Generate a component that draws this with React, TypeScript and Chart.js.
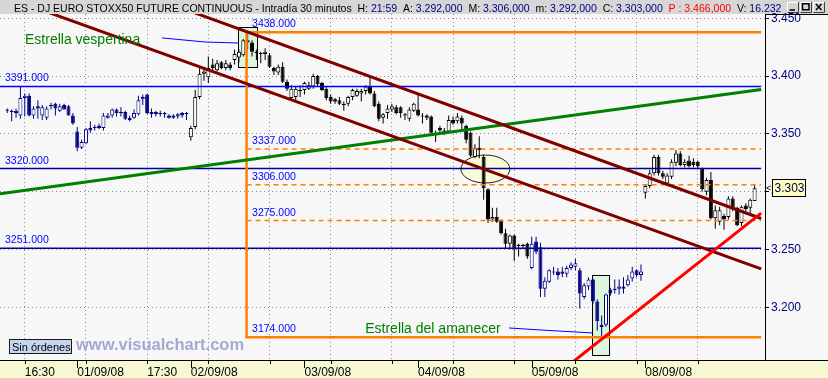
import React, { useEffect, useRef } from 'react';
import { Chart, registerables } from 'chart.js';

Chart.register(...registerables);

const FONT = "'Liberation Sans', Arial, Helvetica, sans-serif";
const NAVY = '#000080';
const BLACK = '#000000';

// ---- OHLC (30 minute bars, 29/08/08 .. 08/09/08) ----
const OPEN = [
  3370,3369,3370,3366,3381,3383,3366,3374,3366,3364,
  3374,3376,3370,3375,3374,3366,3352,3338,3342,3355,
  3355,3357,3355,3364,3366,3371,3369,3369,3364,3364,
  3367,3380,3384,3369,3369,3368,3367,3366,3366,3365,
  3368,3367,3347,3356,3382,3402,3399,3410,3405,3412,
  3407,3410,3414,3416,3418,3431,3429,3421,3420,3419,
  3418,3407,3403,3408,3395,3381,3382,3388,3388,3389,
  3391,3400,3394,3389,3382,3380,3379,3376,3376,3382,
  3383,3385,3387,3391,3385,3376,3364,3368,3371,3373,
  3373,3367,3363,3370,3371,3366,3366,3365,3351,3355,
  3353,3352,3362,3361,3364,3357,3351,3330,3338,3330,
  3302,3276,3278,3275,3264,3255,3262,3253,3253,3255,
  3234,3257,3252,3216,3222,3231,3231,3231,3229,3234,
  3235,3232,3209,3218,3224,3205,3185,3185,3215,3216,
  3216,3218,3219,3225,3232,3228,3299,3305,3316,3330,
  3316,3307,3313,3325,3333,3323,3327,3326,3326,3320,
  3300,3310,3277,3274,3279,3278,3294,3286,3273,3288,
  3286,3292,
];
const HIGH = [
  3372,3371,3372,3391,3385,3385,3374,3379,3375,3374,
  3377,3377,3376,3376,3375,3368,3356,3345,3355,3361,
  3358,3359,3368,3368,3372,3372,3373,3370,3366,3371,
  3383,3384,3385,3372,3370,3370,3369,3367,3367,3368,
  3369,3369,3357,3388,3407,3407,3417,3415,3414,3413,
  3414,3412,3423,3423,3432,3438,3431,3423,3421,3424,
  3420,3408,3410,3412,3397,3392,3391,3392,3395,3395,
  3402,3401,3395,3391,3384,3381,3382,3378,3383,3389,
  3389,3389,3392,3400,3387,3378,3368,3375,3376,3375,
  3374,3368,3373,3377,3385,3368,3367,3366,3353,3357,
  3355,3366,3365,3368,3366,3358,3352,3341,3348,3332,
  3303,3286,3286,3276,3268,3263,3263,3255,3255,3256,
  3261,3261,3256,3226,3233,3235,3234,3235,3236,3239,
  3242,3234,3221,3226,3225,3207,3193,3212,3217,3224,
  3224,3226,3228,3235,3233,3237,3306,3319,3332,3332,
  3318,3316,3328,3336,3335,3328,3331,3329,3327,3321,
  3312,3317,3288,3287,3281,3296,3296,3287,3288,3290,
  3294,3306,
];
const LOW = [
  3368,3361,3364,3363,3365,3365,3363,3363,3362,3362,
  3371,3366,3369,3371,3366,3358,3335,3337,3341,3351,
  3353,3354,3353,3363,3364,3365,3365,3362,3361,3363,
  3366,3375,3367,3364,3365,3365,3364,3363,3363,3363,
  3364,3362,3344,3354,3380,3396,3394,3404,3404,3406,
  3405,3405,3410,3412,3417,3423,3417,3414,3411,3414,
  3407,3401,3401,3394,3387,3379,3378,3382,3384,3388,
  3389,3391,3387,3379,3376,3376,3375,3370,3374,3379,
  3382,3378,3384,3384,3373,3361,3359,3363,3369,3367,
  3364,3362,3361,3369,3365,3359,3362,3349,3343,3351,
  3349,3351,3358,3359,3353,3342,3330,3329,3329,3293,
  3273,3274,3273,3263,3251,3250,3240,3244,3251,3242,
  3233,3246,3209,3209,3221,3228,3224,3226,3226,3232,
  3232,3199,3207,3215,3203,3180,3175,3183,3210,3212,
  3211,3212,3218,3222,3226,3223,3294,3303,3314,3314,
  3311,3305,3311,3322,3322,3321,3321,3321,3320,3300,
  3297,3276,3268,3271,3267,3276,3283,3270,3270,3283,
  3281,3292,
];
const CLOSE = [
  3371,3370,3368,3381,3383,3366,3372,3372,3373,3372,
  3375,3372,3374,3371,3366,3359,3338,3343,3354,3353,
  3356,3355,3366,3366,3371,3368,3368,3363,3362,3368,
  3379,3382,3368,3367,3367,3367,3368,3364,3364,3367,
  3366,3368,3355,3382,3402,3404,3407,3407,3411,3407,
  3411,3407,3419,3421,3431,3429,3421,3420,3419,3421,
  3408,3404,3408,3395,3389,3389,3389,3387,3394,3392,
  3400,3393,3388,3381,3378,3378,3376,3375,3382,3388,
  3387,3387,3391,3385,3374,3363,3367,3372,3374,3368,
  3368,3366,3371,3376,3366,3365,3364,3351,3349,3353,
  3351,3362,3359,3365,3359,3345,3331,3338,3336,3303,
  3276,3278,3274,3264,3255,3262,3250,3254,3254,3244,
  3255,3248,3216,3223,3232,3230,3228,3229,3234,3237,
  3238,3212,3219,3224,3205,3188,3183,3211,3212,3215,
  3218,3216,3224,3231,3228,3231,3305,3316,3330,3316,
  3313,3314,3326,3333,3323,3326,3322,3323,3322,3302,
  3310,3277,3284,3284,3276,3294,3286,3271,3287,3285,
  3293,3303,
];

// ---- axes ----
const DAY_STARTS = [16, 42, 68, 94, 120, 146];
const DAY_LABELS = ['01/09/08', '02/09/08', '03/09/08', '04/09/08', '05/09/08', '08/09/08'];
const SESSION_INK = [NAVY, NAVY, BLACK, BLACK, BLACK, NAVY, BLACK];
const TIME_TICKS = [4, 18, 32, 46, 60, 74, 88, 102, 116, 130, 144, 158];
const TIME_LABELS = ['16:30', '', '17:30', '', '', '', '', '', '', '', '', ''];
const PRICE_TICKS = [3200, 3250, 3300, 3350, 3400, 3450];
const X_MIN = -1.67;
const X_MAX = 173.38;
const Y_MIN = 3154.4;
const Y_MAX = 3453.7;

// ---- header values ----
const HEADER_TITLE = 'ES - DJ EURO STOXX50 FUTURE CONTINUOUS - Intradía 30 minutos';
const HEADER_TIME = '21:59';
const HEADER_OPEN = '3.292,000';
const HEADER_HIGH = '3.306,000';
const HEADER_LOW = '3.292,000';
const HEADER_CLOSE = '3.303,000';
const HEADER_PREV = '3.466,000';
const HEADER_VOL = '16.232';
const LAST_PRICE = 3303;

// ---- drawings (data units: bar index, price) ----
const SUPPORT_LEVELS = [3391, 3320, 3251];
const SUPPORT_COLORS = ['#0000ff', '#000099', '#000099'];
const FIB_LEVELS = [3438, 3337, 3306, 3275, 3174];
const FIB_DASHED = [3337, 3306, 3275];
const FIB_START = 54.75;
const DRAW_END = 172.5;
const CHANNEL_UPPER = [[41.8, 3456.2], [172.5, 3276.8]];
const CHANNEL_LOWER = [[8.6, 3456.2], [172.5, 3233.2]];
const GREEN_TREND = [[-1.67, 3298.1], [172.5, 3388.4]];
const RED_TREND = [[128.8, 3150.9], [172.5, 3281.5]];
const EVENING_BOX = [52.8, 57.1, 3442.5, 3407.9];
const MORNING_BOX = [133.8, 137.7, 3228.1, 3158.9];
const ELLIPSE = [109.4, 3319.6, 5.6, 12.1];
const EVENING_POINTER = [[35.4, 3433.0], [45.2, 3429.5], [52.8, 3428.6]];
const MORNING_POINTER = [[114.8, 3182.1], [121.9, 3180.4], [133.8, 3177.8]];
const EVENING_TEXT = { x: 4.05, y: 3427.6, text: 'Estrella vespertina' };
const MORNING_TEXT = { x: 81.9, y: 3177.9, text: 'Estrella del amanecer' };

const X_TICKS = [
  ...TIME_TICKS.map((v, i) => ({ value: v, label: TIME_LABELS[i], major: false })),
  ...DAY_STARTS.map((v, i) => ({ value: v, label: DAY_LABELS[i], major: true })),
].sort((a, b) => a.value - b.value);

function sessionOf(i: number) {
  let s = 0;
  for (const d of DAY_STARTS) if (i >= d) s++;
  return s;
}
const INK = OPEN.map((_, i) => SESSION_INK[sessionOf(i)]);
const BODY_FILL = OPEN.map((o, i) => (CLOSE[i] >= o ? '#ffffff' : INK[i]));

const fmtPrice = (v: number) => (v / 1000).toFixed(3);

function lineDs(pts: number[][], color: string, width: number, order: number, dash: number[] = []) {
  return {
    type: 'line' as const,
    data: pts.map(([x, y]) => ({ x, y })),
    borderColor: color,
    borderWidth: width,
    borderDash: dash,
    pointRadius: 0,
    fill: false,
    tension: 0,
    clip: 0,
    order,
  };
}

const overlay = {
  id: 'overlay',
  beforeDraw(chart: any) {
    const { ctx, chartArea: a, width, height } = chart;
    ctx.save();
    ctx.fillStyle = '#f7f7f7';
    ctx.fillRect(0, 0, width, height);
    ctx.fillStyle = '#f7f7d1';
    ctx.fillRect(0, a.bottom, width, height - a.bottom);
    ctx.fillStyle = '#d6d6d6';
    ctx.fillRect(0, 0, width, a.top);
    ctx.restore();
  },
  beforeDatasetsDraw(chart: any) {
    const { ctx, chartArea: a, scales } = chart;
    const xp = (v: number) => scales.x.getPixelForValue(v);
    const yp = (v: number) => scales.y.getPixelForValue(v);
    ctx.save();
    ctx.beginPath();
    ctx.rect(a.left, a.top, a.right - a.left, a.bottom - a.top);
    ctx.clip();
    for (const b of [EVENING_BOX, MORNING_BOX]) {
      const x1 = Math.round(xp(b[0])), x2 = Math.round(xp(b[1]));
      const y1 = Math.round(yp(b[2])), y2 = Math.round(yp(b[3]));
      ctx.fillStyle = '#ddf5dd';
      ctx.fillRect(x1, y1, x2 - x1, y2 - y1);
      ctx.strokeStyle = '#000';
      ctx.lineWidth = 1;
      ctx.strokeRect(x1 + 0.5, y1 + 0.5, x2 - x1, y2 - y1);
    }
    const [cx, cy, rx, ry] = ELLIPSE;
    const ex = xp(cx), ey = yp(cy);
    const erx = xp(cx + rx) - ex, ery = ey - yp(cy + ry);
    ctx.beginPath();
    ctx.ellipse(ex, ey, erx, ery, 0, 0, Math.PI * 2);
    ctx.fillStyle = '#fafad6';
    ctx.fill();
    ctx.strokeStyle = '#222';
    ctx.lineWidth = 1;
    ctx.stroke();
    ctx.restore();
  },
  afterDatasetsDraw(chart: any) {
    const { ctx, scales } = chart;
    const xp = (v: number) => scales.x.getPixelForValue(v);
    const yp = (v: number) => scales.y.getPixelForValue(v);
    ctx.save();
    ctx.textBaseline = 'alphabetic';
    ctx.textAlign = 'left';
    ctx.font = `10.5px ${FONT}`;
    ctx.fillStyle = '#0000ff';
    for (const lv of SUPPORT_LEVELS) ctx.fillText(lv.toFixed(3), 5, yp(lv) - 5);
    for (const lv of FIB_LEVELS) ctx.fillText(lv.toFixed(3), xp(FIB_START) + 5.5, yp(lv) - 5);
    ctx.font = `14px ${FONT}`;
    ctx.fillStyle = '#008000';
    for (const t of [EVENING_TEXT, MORNING_TEXT]) ctx.fillText(t.text, xp(t.x), yp(t.y));
    ctx.restore();
  },
  afterDraw(chart: any) {
    const { ctx, chartArea: a, scales, width, height } = chart;
    const xs = scales.x;
    const ys = scales.y;
    ctx.save();
    // borders
    ctx.strokeStyle = '#000';
    ctx.lineWidth = 1;
    ctx.beginPath();
    ctx.moveTo(0, a.bottom + 0.5);
    ctx.lineTo(width, a.bottom + 0.5);
    ctx.moveTo(a.right + 0.5, a.top);
    ctx.lineTo(a.right + 0.5, a.bottom);
    ctx.moveTo(a.right, a.top + 0.5);
    ctx.lineTo(width, a.top + 0.5);
    ctx.stroke();
    // x tick marks
    ctx.beginPath();
    for (const t of X_TICKS) {
      const x = Math.round(xs.getPixelForValue(t.value)) + 0.5;
      ctx.moveTo(x, a.bottom + 1);
      ctx.lineTo(x, a.bottom + (t.major ? 8 : 4));
    }
    ctx.stroke();

    // last price marker
    const yc = ys.getPixelForValue(LAST_PRICE);
    ctx.fillStyle = '#ffffc4';
    ctx.fillRect(772, Math.round(yc) - 9, 33, 17);
    ctx.strokeRect(772.5, Math.round(yc) - 8.5, 33, 17);
    ctx.fillStyle = '#000040';
    ctx.font = `12px ${FONT}`;
    ctx.textBaseline = 'middle';
    ctx.fillText(fmtPrice(LAST_PRICE), 774.5, yc + 0.5);
    ctx.font = `9px ${FONT}`;
    ctx.fillStyle = '#000';
    ctx.fillText('<', 766, yc);

    // Sin órdenes box
    ctx.fillStyle = '#c6d6ee';
    ctx.fillRect(9, 339, 63, 15);
    ctx.strokeStyle = '#1a1a1a';
    ctx.strokeRect(9.5, 339.5, 62, 14);
    ctx.fillStyle = '#000';
    ctx.textBaseline = 'alphabetic';
    ctx.font = `11px ${FONT}`;
    ctx.fillText('Sin órdenes', 12, 350.5);

    // watermark
    ctx.font = `bold 16.5px ${FONT}`;
    ctx.fillStyle = '#a2aad2';
    ctx.fillText('www.visualchart.com', 76, 350);

    // header text
    const parts: [string, string][] = [
      [HEADER_TITLE + '  H: ', '#000'], [HEADER_TIME, NAVY],
      ['  A: ', '#000'], [HEADER_OPEN, NAVY],
      ['  M: ', '#000'], [HEADER_HIGH, NAVY],
      ['  m: ', '#000'], [HEADER_LOW, NAVY],
      ['  C: ', '#000'], [HEADER_CLOSE, NAVY],
      ['  P : ' + HEADER_PREV, '#ff0000'],
      ['  V: ', '#000'], [HEADER_VOL, NAVY],
    ];
    ctx.font = `12px ${FONT}`;
    const total = parts.reduce((s, p) => s + ctx.measureText(p[0]).width, 0);
    const size = Math.max(10.5, Math.min(13, (12 * 764) / total));
    ctx.font = `${size}px ${FONT}`;
    let hx = 14;
    for (const [s, c] of parts) {
      ctx.fillStyle = c;
      ctx.fillText(s, hx, 11.5);
      hx += ctx.measureText(s).width;
    }
    // window buttons
    const btns = [787, 800, 813];
    btns.forEach((bx, i) => {
      ctx.fillStyle = '#d4d4d4';
      ctx.fillRect(bx, 2, 11, 10);
      ctx.strokeStyle = '#ffffff';
      ctx.beginPath();
      ctx.moveTo(bx + 0.5, 11.5); ctx.lineTo(bx + 0.5, 2.5); ctx.lineTo(bx + 11, 2.5);
      ctx.stroke();
      ctx.strokeStyle = '#404040';
      ctx.beginPath();
      ctx.moveTo(bx + 0.5, 12.5); ctx.lineTo(bx + 11.5, 12.5); ctx.lineTo(bx + 11.5, 2);
      ctx.stroke();
      ctx.strokeStyle = '#000';
      ctx.lineWidth = 1.5;
      ctx.beginPath();
      if (i === 0) { ctx.moveTo(bx + 2.5, 10); ctx.lineTo(bx + 8, 10); }
      if (i === 1) { ctx.rect(bx + 2.5, 3.75, 6.5, 6); }
      if (i === 2) { ctx.moveTo(bx + 3, 4); ctx.lineTo(bx + 8.5, 10); ctx.moveTo(bx + 8.5, 4); ctx.lineTo(bx + 3, 10); }
      ctx.stroke();
      ctx.lineWidth = 1;
    });
    ctx.restore();
  },
};

export default function App() {
  const ref = useRef<HTMLCanvasElement | null>(null);
  useEffect(() => {
    if (!ref.current) return;
    Chart.defaults.font.family = FONT;
    const datasets: any[] = [
      {
        type: 'bar',
        data: OPEN.map((_, i) => ({ x: i, y: [LOW[i], HIGH[i]] })),
        backgroundColor: INK,
        borderWidth: 0,
        barThickness: 1,
        grouped: false,
        inflateAmount: 0,
        order: 20,
      },
      {
        type: 'bar',
        data: OPEN.map((o, i) => ({ x: i, y: [o, CLOSE[i]] })),
        backgroundColor: BODY_FILL,
        borderColor: INK,
        borderWidth: 1,
        borderSkipped: false,
        barThickness: 4,
        grouped: false,
        inflateAmount: 0,
        order: 19,
      },
      ...SUPPORT_LEVELS.map((lv, i) => lineDs([[X_MIN, lv], [DRAW_END, lv]], SUPPORT_COLORS[i], 1.5, 6)),
      ...FIB_DASHED.map((lv) => lineDs([[FIB_START, lv], [DRAW_END, lv]], '#ff8000', 1.5, 5, [5, 4])),
      lineDs([[DRAW_END, FIB_LEVELS[0]], [FIB_START, FIB_LEVELS[0]], [FIB_START, FIB_LEVELS[4]], [DRAW_END, FIB_LEVELS[4]]], '#ff8000', 2.5, 5),
      lineDs(GREEN_TREND, '#008000', 3, 4),
      lineDs(CHANNEL_UPPER, '#800000', 3, 3),
      lineDs(CHANNEL_LOWER, '#800000', 3, 3),
      lineDs(RED_TREND, '#ff0000', 3, 2),
      lineDs(EVENING_POINTER, '#0000ff', 1, 1),
      lineDs(MORNING_POINTER, '#0000ff', 1, 1),
    ];
    const chart = new Chart(ref.current, {
      type: 'line',
      data: { datasets },
      options: {
        responsive: false,
        animation: false,
        devicePixelRatio: 1,
        events: [],
        layout: { padding: { top: 14, left: 0, right: 0, bottom: 0 } },
        plugins: { legend: { display: false }, tooltip: { enabled: false }, title: { display: false } },
        scales: {
          x: {
            type: 'linear',
            min: X_MIN,
            max: X_MAX,
            bounds: 'data',
            offset: false,
            position: 'bottom',
            afterBuildTicks: (s: any) => { s.ticks = X_TICKS.map((t) => ({ value: t.value })); },
            afterFit: (s: any) => { s.height = 18; },
            grid: {
              offset: false,
              drawTicks: false,
              lineWidth: 1,
              color: (c: any) => (c.tick && DAY_STARTS.includes(c.tick.value) ? 'rgba(0,0,0,0)' : '#8a8a8a'),
            },
            border: { display: false, dash: [1, 3] },
            ticks: {
              autoSkip: false,
              maxRotation: 0,
              minRotation: 0,
              align: 'start',
              padding: 5,
              color: '#000',
              font: { size: 12, family: FONT },
              callback: (v: any) => X_TICKS.find((t) => t.value === v)?.label ?? '',
            },
          },
          y: {
            type: 'linear',
            position: 'right',
            min: Y_MIN,
            max: Y_MAX,
            bounds: 'data',
            afterBuildTicks: (s: any) => { s.ticks = PRICE_TICKS.map((v) => ({ value: v })); },
            afterFit: (s: any) => { s.width = 63; },
            grid: { color: '#8a8a8a', drawTicks: true, tickLength: 4, tickColor: '#000', tickBorderDash: [], lineWidth: 1 },
            border: { display: false, dash: [1, 3] },
            ticks: {
              padding: 2,
              color: NAVY,
              font: { size: 12, family: FONT },
              callback: (v: any) => fmtPrice(Number(v)),
            },
          },
        },
      } as any,
      plugins: [overlay],
    });
    return () => chart.destroy();
  }, []);
  return (
    <div style={{ position: 'fixed', left: 0, top: 0, width: 828, height: 378 }}>
      <canvas ref={ref} width={828} height={378} style={{ display: 'block', width: '828px', height: '378px' }} />
    </div>
  );
}
